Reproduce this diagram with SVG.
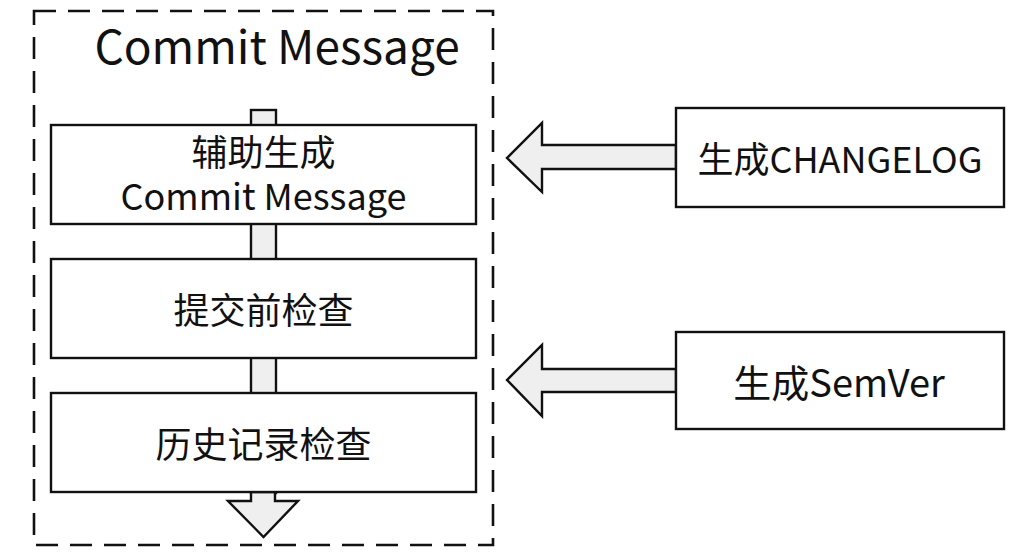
<svg xmlns="http://www.w3.org/2000/svg" width="1030" height="560" viewBox="0 0 1030 560">
  <style>
    .box { fill: #ffffff; stroke: #111111; stroke-width: 2.4; }
    .pipe { fill: #efefef; stroke: #111111; stroke-width: 2.4; stroke-linejoin: miter; }
    .frame { fill: none; stroke: #111111; stroke-width: 2.6; stroke-dasharray: 22 12; }
    .lbl { font-family: "Noto Sans CJK SC", "Noto Sans", sans-serif; font-size: 36px; fill: #111111; text-anchor: middle; dominant-baseline: central; }
    .title { font-size: 46px; }
  </style>

  <!-- dashed container -->
  <g id="container">
    <rect class="frame" x="34" y="11" width="459" height="534"/>
    <text class="lbl title" x="277" y="44">Commit Message</text>
  </g>

  <!-- connectors: vertical flow pipe and feed arrows -->
  <g id="connectors">
    <rect class="pipe" x="251" y="110" width="25" height="383"/>
    <polygon class="pipe" points="251,492 251,501 228,501 263.5,537 298,501 275,501 275,492"/>
    <polygon class="pipe" points="676,145 542,145 542,123 507,158 542,192 542,169 676,169"/>
    <polygon class="pipe" points="676,369 542,369 542,345 507,380 542,416 542,392 676,392"/>
  </g>

  <g id="node-assist">
    <rect class="box" x="51" y="125" width="425" height="99"/>
    <text class="lbl" x="263.5" y="150">辅助生成<tspan x="263.5" dy="44">Commit Message</tspan></text>
  </g>

  <g id="node-precommit">
    <rect class="box" x="51" y="259" width="425" height="99"/>
    <text class="lbl" x="263.5" y="308">提交前检查</text>
  </g>

  <g id="node-history">
    <rect class="box" x="51" y="393" width="425" height="99"/>
    <text class="lbl" x="263.5" y="442">历史记录检查</text>
  </g>

  <g id="node-changelog">
    <rect class="box" x="676" y="108" width="328" height="99"/>
    <text class="lbl" x="840" y="157">生成CHANGELOG</text>
  </g>

  <g id="node-semver">
    <rect class="box" x="676" y="332" width="328" height="97"/>
    <text class="lbl" x="839" y="380" style="font-size:38px">生成SemVer</text>
  </g>
</svg>
